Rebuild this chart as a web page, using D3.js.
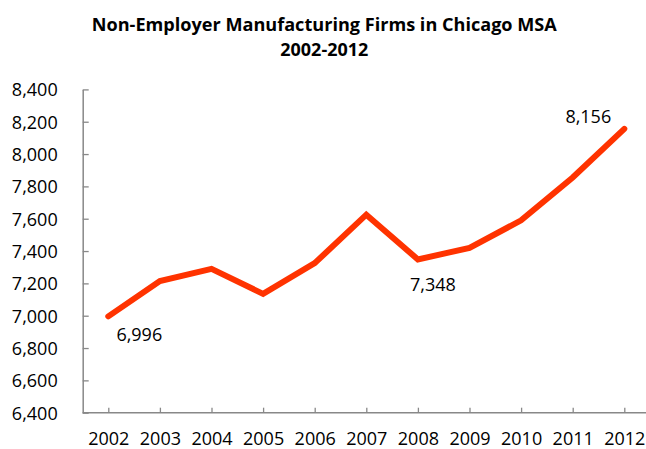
<!DOCTYPE html>
<html><head><meta charset="utf-8">
<script src="https://cdn.jsdelivr.net/npm/d3@7"></script>
<style>body{margin:0;background:#fff}svg{display:block}text{font-family:"Open Sans",sans-serif;fill:#000}</style>
</head><body><svg id="c" width="646" height="449"></svg>
<script>
const years = ["2002","2003","2004","2005","2006","2007","2008","2009","2010","2011","2012"];
const firms = [6996, 7215, 7290, 7135, 7325, 7625, 7348, 7420, 7590, 7855, 8156];
const yTicks = [6400, 6600, 6800, 7000, 7200, 7400, 7600, 7800, 8000, 8200, 8400];
const labeled = ["2002", "2008", "2012"];
const titleLines = ["Non-Employer Manufacturing Firms in Chicago MSA", "2002-2012"];

const svg = d3.select("#c");
const x = d3.scalePoint().domain(years).range([108.3, 624.3]);
const y = d3.scaleLinear().domain([6400, 8400]).range([412.7, 89.4]);
const fmt = d3.format(",");

// title
const tl = svg.append("g");
tl.append("text").attr("x", 324.3).attr("y", 30.5).attr("text-anchor", "middle")
  .attr("font-size", 18).attr("font-weight", "bold")
  .attr("textLength", 465).attr("lengthAdjust", "spacingAndGlyphs").text(titleLines[0]);
tl.append("text").attr("x", 324.3).attr("y", 55.5).attr("text-anchor", "middle")
  .attr("font-size", 18).attr("font-weight", "bold")
  .attr("textLength", 88).attr("lengthAdjust", "spacingAndGlyphs").text(titleLines[1]);

// y axis
const ya = svg.append("g").attr("transform", "translate(82.7,0)")
  .call(d3.axisLeft(y).tickValues(yTicks).tickFormat(fmt).tickSizeInner(-6).tickSizeOuter(0).tickPadding(25));
ya.select(".domain").attr("stroke", "#888").attr("stroke-width", 1.5);
ya.selectAll(".tick line").attr("stroke", "#888").attr("stroke-width", 1.3);
ya.selectAll(".tick text").attr("font-size", 18).attr("font-family", "Open Sans").attr("fill", "#000").attr("dy", "0.35em");

// x axis
const xa = svg.append("g").attr("transform", "translate(0,412.7)")
  .call(d3.axisBottom(x).tickSizeInner(-5).tickSizeOuter(0).tickPadding(20));
xa.select(".domain").attr("d", "M82.7,0H646").attr("stroke", "#888").attr("stroke-width", 1.5);
xa.selectAll(".tick line").attr("stroke", "#888").attr("stroke-width", 1.3);
xa.selectAll(".tick text").attr("font-size", 18).attr("font-family", "Open Sans").attr("fill", "#000").attr("dy", "0.7em");

// line
const line = d3.line().x((d, i) => x(years[i])).y(d => y(d));
svg.append("path").datum(firms).attr("d", line).attr("fill", "none")
  .attr("stroke", "#ff3300").attr("stroke-width", 6)
  .attr("stroke-linejoin", "miter").attr("stroke-linecap", "round");

// data labels
const offs = {"2002": [31, 25], "2008": [15, 32], "2012": [-36, -6]};
labeled.forEach(yr => {
  const i = years.indexOf(yr);
  svg.append("text").attr("x", x(yr) + offs[yr][0]).attr("y", y(firms[i]) + offs[yr][1])
    .attr("text-anchor", "middle").attr("font-size", 18).text(fmt(firms[i]));
});
</script></body></html>
